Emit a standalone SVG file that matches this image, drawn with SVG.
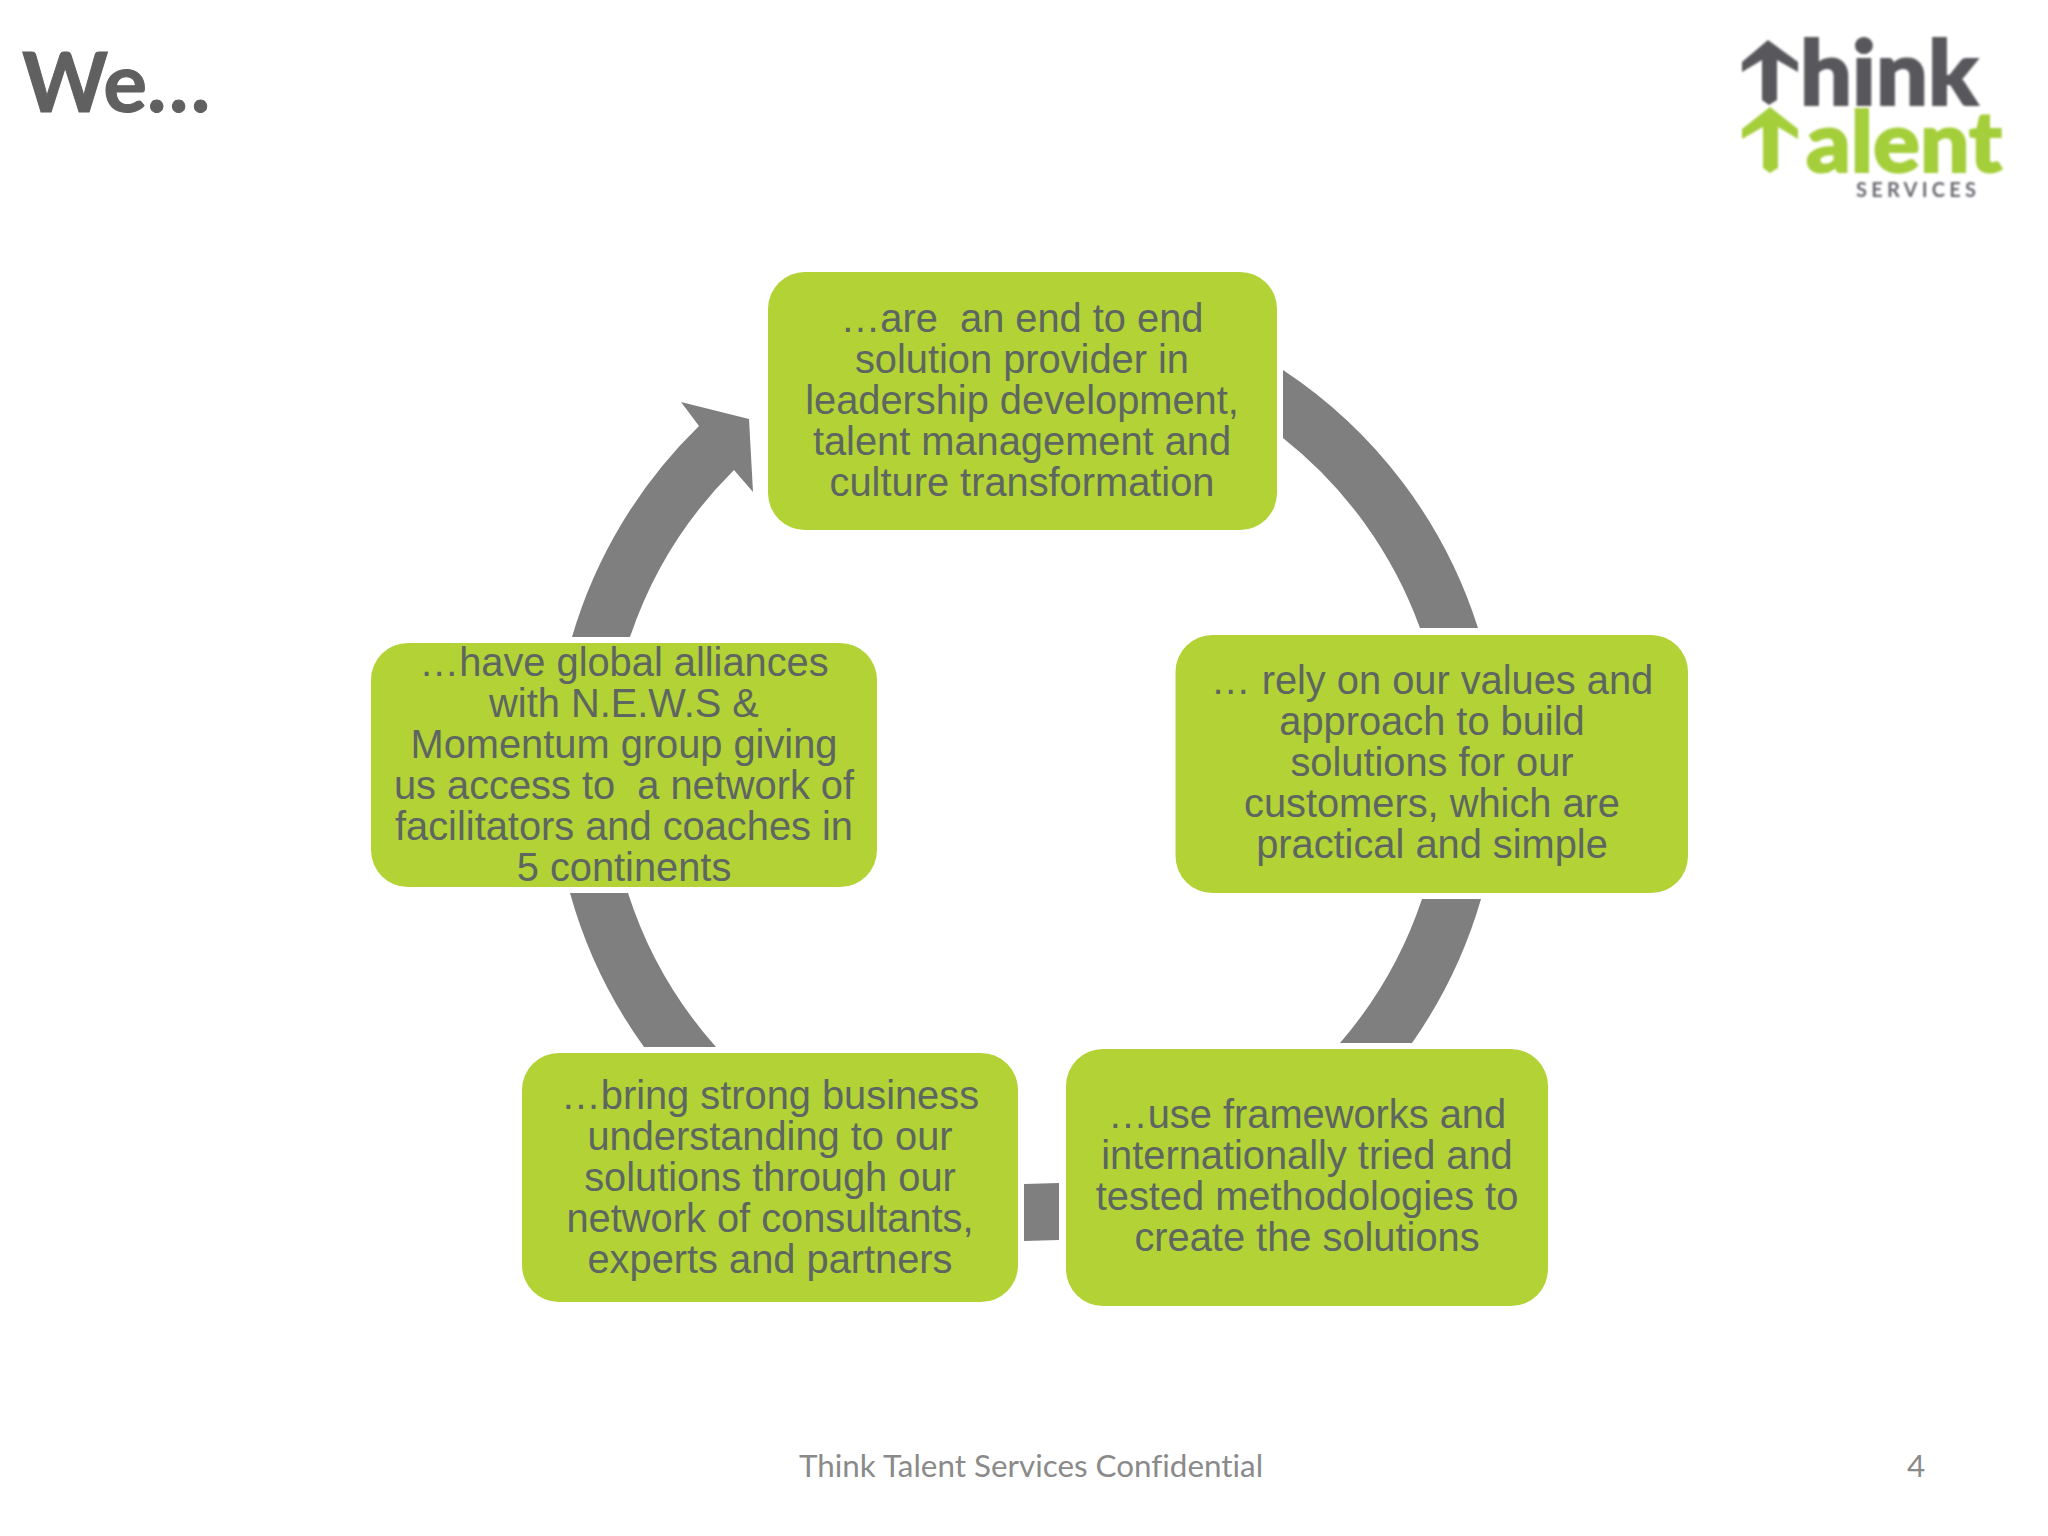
<svg xmlns="http://www.w3.org/2000/svg" width="2048" height="1536" viewBox="0 0 2048 1536">
<style>
.box{fill:#b2d235}
.lbl{font-family:"Liberation Sans",Arial,sans-serif;font-size:39.8px;fill:#5d6660;text-anchor:middle;white-space:pre}
.arc{fill:#7f7f80}
.title{font-family:Lato,"Open Sans",sans-serif;font-weight:700;font-size:82px;fill:#606060;stroke:#606060;stroke-width:1px}
.foot{font-family:Lato,"Open Sans",sans-serif;font-size:31.4px;fill:#8a8a8a;font-variant-ligatures:none}
.logo{font-family:Lato,"Open Sans",sans-serif;font-weight:900;stroke-width:2px}
</style>
<defs><filter id="soft" x="-5%" y="-5%" width="110%" height="110%"><feGaussianBlur stdDeviation="0.9"/></filter></defs>
<rect width="2048" height="1536" fill="#ffffff"/>
<text id="title" class="title" x="22" y="112">We…</text>
<g id="logo" filter="url(#soft)">
<polygon fill="#58595b" points="1768,40 1798,62 1798,72 1777,60 1777,100 1769,105 1762,100 1762,60 1742,72 1742,62"/>
<text class="logo" x="1800" y="105" font-size="90" fill="#58595b" stroke="#58595b" textLength="178" lengthAdjust="spacingAndGlyphs">hink</text>
<polygon fill="#a4cf3a" points="1770,107 1798,129 1798,139 1778,127 1778,168 1770,173 1763,168 1763,127 1742,139 1742,129"/>
<text class="logo" x="1806" y="172" font-size="84" fill="#a4cf3a" stroke="#a4cf3a" textLength="196" lengthAdjust="spacingAndGlyphs">alent</text>
<text x="1856" y="197" font-family="Lato,sans-serif" font-weight="700" font-size="20" fill="#6a6a72" textLength="120">SERVICES</text>
</g>
<g id="connectors">
<path class="arc" d="M1283,370 A485,485 0 0 1 1478,628 L1420,628 A428,428 0 0 0 1283,438 Z"/>
<path class="arc" d="M1481,899 A485,485 0 0 1 1412,1043 L1340,1043 A428,428 0 0 0 1422,899 Z"/>
<path class="arc" d="M1024,1184 L1059,1183 L1059,1240 L1024,1241 Z"/>
<path class="arc" d="M570,893 L628,893 A428,428 0 0 0 716,1047 L644,1047 A485,485 0 0 1 570,893 Z"/>
<path class="arc" d="M572,637 A485,485 0 0 1 699,426 L681,402 L749,419 L753,492 L734,470 A428,428 0 0 0 630,637 Z"/>
</g>
<g id="node-top"><rect class="box" x="768" y="272" width="509" height="258" rx="37"/>
<text class="lbl"><tspan x="1022" y="332">…are  an end to end</tspan><tspan x="1022" y="373">solution provider in</tspan><tspan x="1022" y="414">leadership development,</tspan><tspan x="1022" y="455">talent management and</tspan><tspan x="1022" y="496">culture transformation</tspan></text></g>
<g id="node-right"><rect class="box" x="1175.5" y="635" width="512.5" height="258" rx="37"/>
<text class="lbl"><tspan x="1432" y="694">… rely on our values and</tspan><tspan x="1432" y="735">approach to build</tspan><tspan x="1432" y="776">solutions for our</tspan><tspan x="1432" y="817">customers, which are</tspan><tspan x="1432" y="858">practical and simple</tspan></text></g>
<g id="node-bottom-right"><rect class="box" x="1066" y="1049" width="482" height="257" rx="37"/>
<text class="lbl"><tspan x="1307" y="1128">…use frameworks and</tspan><tspan x="1307" y="1169">internationally tried and</tspan><tspan x="1307" y="1210">tested methodologies to</tspan><tspan x="1307" y="1251">create the solutions</tspan></text></g>
<g id="node-bottom-left"><rect class="box" x="522" y="1053" width="496" height="249" rx="37"/>
<text class="lbl"><tspan x="770" y="1108.500">…bring strong business</tspan><tspan x="770" y="1149.500">understanding to our</tspan><tspan x="770" y="1190.500">solutions through our</tspan><tspan x="770" y="1231.500">network of consultants,</tspan><tspan x="770" y="1272.500">experts and partners</tspan></text></g>
<g id="node-left"><rect class="box" x="371" y="643" width="506" height="244" rx="37"/>
<text class="lbl"><tspan x="624" y="675.500">…have global alliances</tspan><tspan x="624" y="716.500">with N.E.W.S &amp;</tspan><tspan x="624" y="757.500">Momentum group giving</tspan><tspan x="624" y="798.500">us access to  a network of</tspan><tspan x="624" y="839.500">facilitators and coaches in</tspan><tspan x="624" y="880.500">5 continents</tspan></text></g>
<text class="foot" x="799" y="1477">Think Talent Services Confidential</text>
<text class="foot" x="1907" y="1477">4</text>
</svg>
